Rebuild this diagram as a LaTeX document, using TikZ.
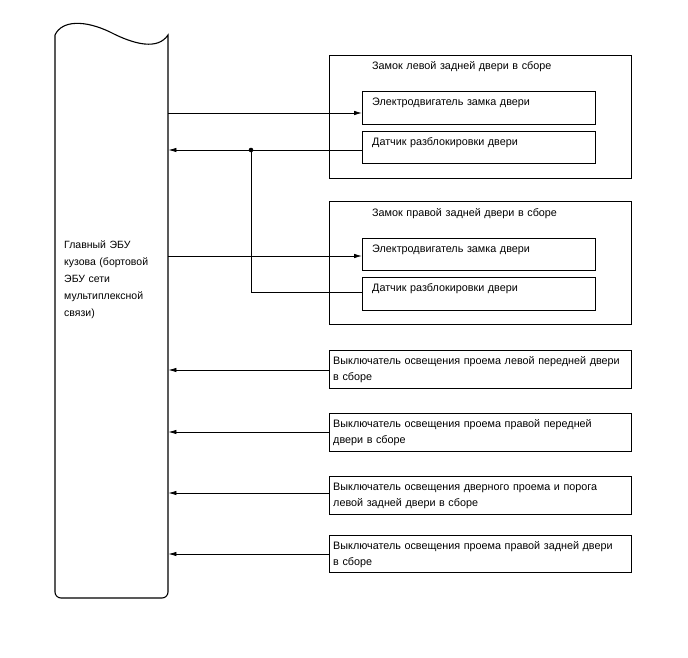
\documentclass[tikz,border=0pt]{standalone}
\usepackage{fontspec}
\setmainfont{Liberation Sans}
\usetikzlibrary{arrows.meta}
\begin{document}
\begin{tikzpicture}[x=1pt,y=-1pt,
  font=\fontsize{10.8}{16}\selectfont,
  frame/.style={draw, line width=1.1pt, inner sep=0, anchor=north west},
  conn/.style={line width=0.8pt},
  arr/.style={conn, -{Latex[length=8pt,width=4.5pt]}},
  txt/.style={anchor=base west, inner sep=0, align=left, text width=295}]
\useasboundingbox (0,0) rectangle (688,658);
% ECU
\node[inner sep=0, minimum width=113, minimum height=568, anchor=north west] (ecu) at (55,30) {};
\draw[line width=1.1pt] (55,35) .. controls (62,20) and (85,20) .. (110,32)
  .. controls (135,45) and (158,50) .. (168,35)
  [rounded corners=6pt] -- (168,598) -- (55,598) [sharp corners] -- cycle;
\node[txt, font=\fontsize{10.5}{17}\selectfont, text width=100] (ecut) at (64,248)
  {Главный ЭБУ\\кузова (бортовой\\ЭБУ сети\\мультиплексной\\связи)};
% group 1
\node[frame, minimum width=302, minimum height=123] (g1) at (329,55) {};
\node[txt] (g1t) at (372,70) {Замок левой задней двери в сборе};
\node[frame, minimum width=233, minimum height=33] (m1) at (362,91) {};
\node[txt] (m1t) at (372,106) {Электродвигатель замка двери};
\node[frame, minimum width=233, minimum height=32] (s1) at (362,131) {};
\node[txt] (s1t) at (372,146) {Датчик разблокировки двери};
% group 2
\node[frame, minimum width=302, minimum height=123] (g2) at (329,201) {};
\node[txt] (g2t) at (372,216) {Замок правой задней двери в сборе};
\node[frame, minimum width=233, minimum height=32] (m2) at (362,238) {};
\node[txt] (m2t) at (372,252) {Электродвигатель замка двери};
\node[frame, minimum width=233, minimum height=33] (s2) at (362,277) {};
\node[txt] (s2t) at (372,291) {Датчик разблокировки двери};
% switches
\node[frame, minimum width=302, minimum height=38] (w1) at (329,350) {};
\node[txt] (w1t) at (333,364) {Выключатель освещения проема левой передней двери\\в сборе};
\node[frame, minimum width=302, minimum height=38] (w2) at (329,413) {};
\node[txt] (w2t) at (333,427) {Выключатель освещения проема правой передней\\двери в сборе};
\node[frame, minimum width=302, minimum height=38] (w3) at (329,476) {};
\node[txt] (w3t) at (333,490) {Выключатель освещения дверного проема и порога\\левой задней двери в сборе};
\node[frame, minimum width=302, minimum height=37] (w4) at (329,535) {};
\node[txt] (w4t) at (333,549) {Выключатель освещения проема правой задней двери\\в сборе};
% connectors
\coordinate (j) at (251,150);
\draw[arr] (ecu.east |- 0,113) -- (m1.west |- 0,113);
\draw[arr] (s1.west |- 0,150) -- (ecu.east |- 0,150);
\fill (j) circle (2.3pt);
\draw[conn] (j) |- (s2.west |- 0,292);
\draw[arr] (ecu.east |- 0,256) -- (m2.west |- 0,256);
\draw[arr] (w1.west |- 0,370) -- (ecu.east |- 0,370);
\draw[arr] (w2.west |- 0,432) -- (ecu.east |- 0,432);
\draw[arr] (w3.west |- 0,493) -- (ecu.east |- 0,493);
\draw[arr] (w4.west |- 0,554) -- (ecu.east |- 0,554);
\end{tikzpicture}
\end{document}
